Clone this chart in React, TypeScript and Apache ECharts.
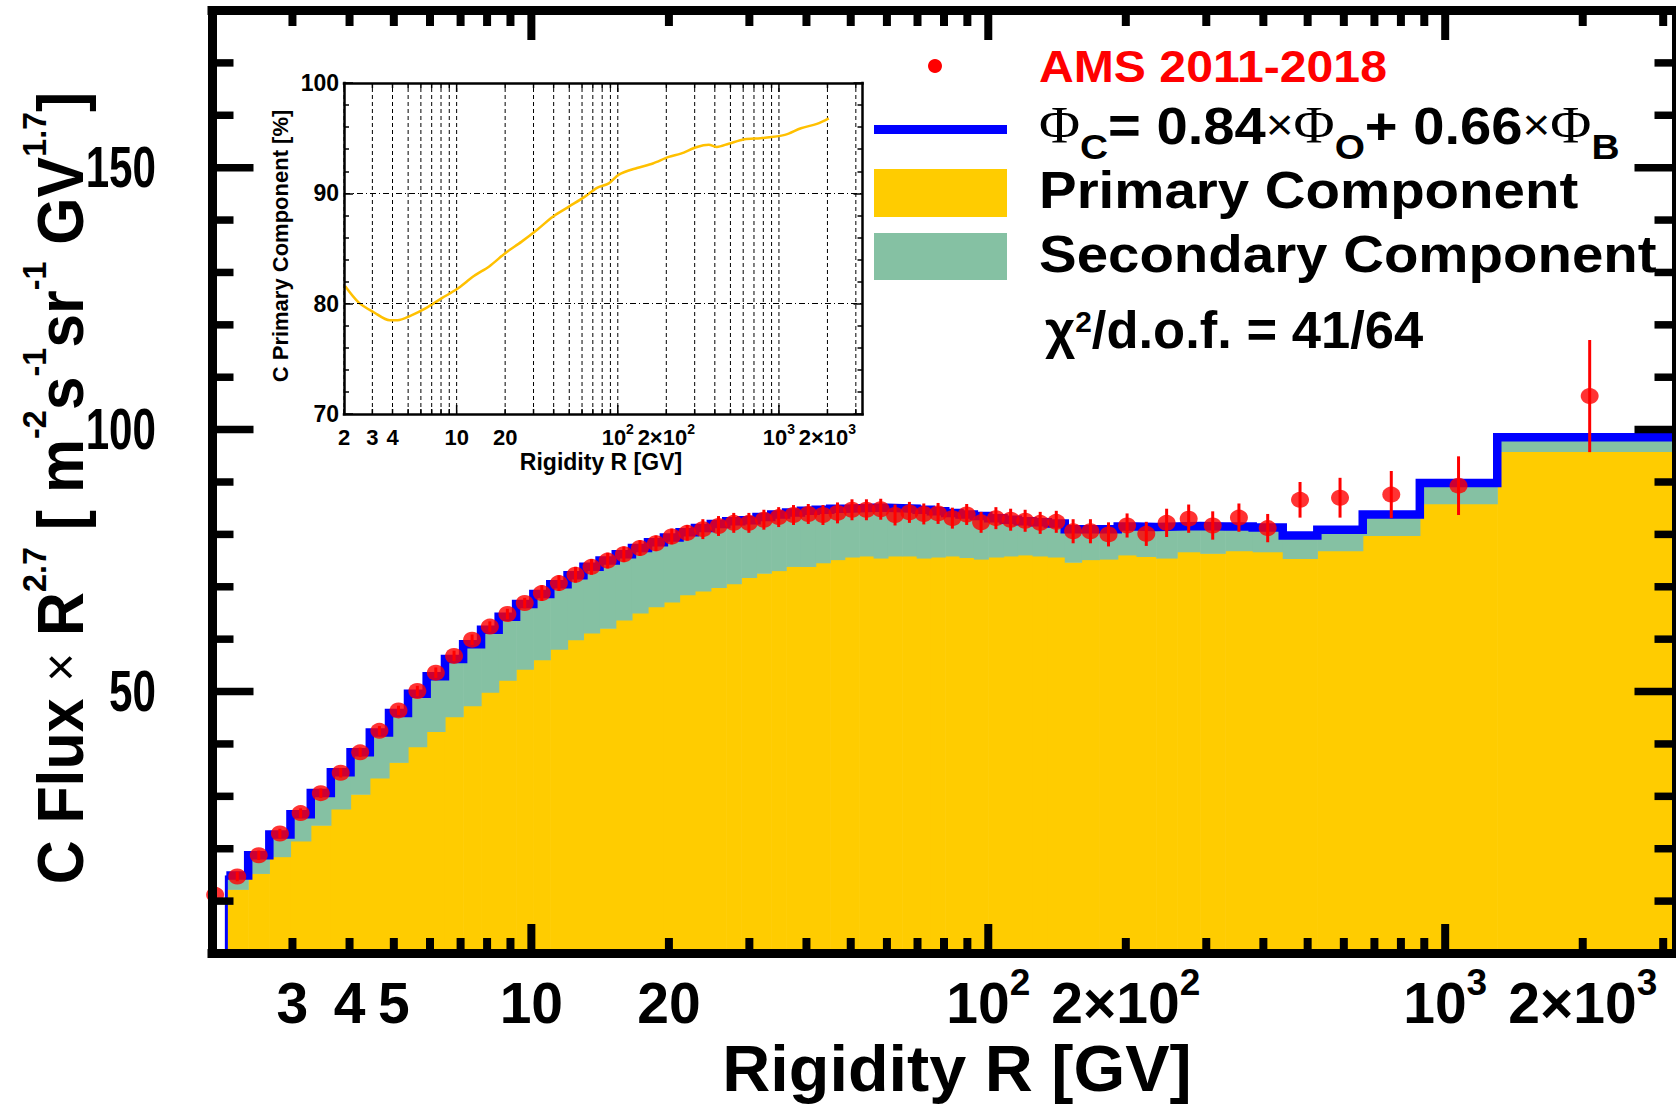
import React, { useEffect, useRef } from 'react';
import * as echarts from 'echarts';

const SANS = "'Liberation Sans', Arial, Helvetica, sans-serif";
const SERIF = "'Liberation Serif', 'DejaVu Serif', 'Times New Roman', serif";

const YELLOW = '#FFCC00';
const GREEN = '#85C1A3';
const BLUE = '#0000FF';
const RED = '#FF0000';
const CURVE = '#FFC000';

// Rigidity bin edges [GV]
const binEdges = [
  1.92, 2.15, 2.4, 2.67, 2.97, 3.29, 3.64, 4.02, 4.43, 4.88, 5.37, 5.9, 6.47, 7.09, 7.76, 8.48,
  9.26, 10.1, 11.0, 12.0, 13.0, 14.1, 15.3, 16.6, 18.0, 19.5, 21.1, 22.8, 24.7, 26.7, 28.8, 31.1,
  33.5, 36.1, 38.9, 41.9, 45.1, 48.5, 52.2, 56.1, 60.3, 64.8, 69.7, 74.9, 80.5, 86.5, 93.0, 100,
  108, 116, 125, 135, 147, 160, 175, 192, 211, 233, 259, 291, 330, 379, 441, 525, 660, 880, 1300, 3300,
];

// Measured C flux x R^2.7, one value per bin
const fluxValues = [
  11.2, 14.7, 18.75, 22.9, 26.8, 30.6, 34.5, 38.4, 42.5, 46.4,
  50.1, 53.6, 56.8, 59.9, 62.4, 64.8, 66.9, 68.8, 70.7, 72.3,
  73.8, 75.0, 76.2, 77.4, 78.3, 79.6, 80.3, 81.0, 81.6, 82.2,
  82.2, 82.8, 83.3, 83.7, 83.9, 83.7, 84.1, 84.7, 84.7, 84.8,
  83.7, 84.2, 83.9, 84.0, 83.1, 83.8, 82.3, 83.1, 82.8, 82.6,
  82.2, 82.4, 80.6, 80.6, 80.0, 81.7, 80.1, 82.2, 83.0, 81.7,
  83.2, 81.2, 86.6, 87.0, 87.6, 89.3, 106.4,
];

// Total uncertainty of each measured point
const fluxErrors = [
  0.9, 0.9, 0.9, 0.9, 0.9, 0.9, 0.9, 0.9, 0.9, 0.9,
  1.0, 1.0, 1.0, 1.0, 1.0, 1.0, 1.0, 1.5, 1.5, 1.5,
  1.5, 1.5, 1.5, 1.5, 1.5, 1.5, 1.5, 1.9, 1.9, 1.9,
  1.9, 1.9, 1.9, 1.9, 1.9, 1.9, 2.0, 2.0, 2.0, 2.0,
  2.0, 2.0, 2.0, 2.0, 2.0, 2.0, 2.0, 2.1, 2.1, 2.1,
  2.1, 2.1, 2.3, 2.3, 2.3, 2.3, 2.3, 2.7, 2.7, 2.7,
  2.7, 2.7, 3.4, 3.8, 4.5, 5.6, 10.7,
];

// Fit Phi_C = 0.84 Phi_O + 0.66 Phi_B, from the second bin (2.15 GV) on
const fitTotal = [
  14.9, 18.75, 22.7, 26.6, 30.65, 34.6, 38.4, 42.2, 45.9, 49.6,
  52.9, 56.2, 59.05, 61.8, 64.3, 66.7, 68.6, 70.5, 72.2, 73.8,
  75.0, 76.2, 77.4, 78.5, 79.4, 80.4, 81.2, 82.0, 82.5, 82.7,
  83.3, 83.8, 84.2, 84.5, 84.7, 84.9, 85.0, 85.1, 85.1, 85.0,
  84.9, 84.7, 84.4, 84.1, 83.8, 83.5, 83.1, 82.8, 82.5, 82.3,
  82.1, 81.0, 81.0, 81.0, 81.5, 81.4, 81.5, 81.6, 81.5, 81.5,
  81.3, 79.8, 80.9, 83.8, 89.8, 98.55,
];

// Primary part of the fit, same bins as fitTotal
const fitPrimary = [
  12.26, 15.3, 18.5, 21.5, 24.5, 27.6, 30.4, 33.5, 36.5, 39.5,
  42.4, 45.2, 47.3, 49.9, 52.2, 54.3, 56.1, 58.1, 59.9, 61.2,
  62.1, 63.7, 65.0, 66.2, 67.1, 68.5, 69.2, 69.9, 70.6, 71.8,
  72.6, 73.1, 73.9, 73.9, 74.6, 75.2, 75.7, 75.9, 75.5, 75.9,
  75.9, 75.5, 75.7, 75.9, 75.6, 75.3, 75.7, 75.9, 76.1, 75.9,
  75.7, 74.7, 75.2, 75.3, 76.1, 75.8, 75.5, 76.7, 76.4, 76.9,
  76.7, 75.4, 76.9, 79.8, 85.85, 95.85,
];

// Inset: primary fraction of the C flux [%]
const insetRigidity = [
  2.03, 2.47, 3.08, 3.84, 4.3, 5.16, 6.45, 8.1, 10, 12.8, 16.0, 20.1, 25.2, 31.6, 39.7, 49.8, 62.5,
  74.3, 87.9, 101.6, 131.6, 165, 207, 246, 310, 367, 412, 488, 613, 770, 1088, 1370, 1720, 2040,
];
const insetPrimaryPct = [
  81.6, 80.1, 79.2, 78.5, 78.5, 78.9, 79.6, 80.5, 81.3, 82.5, 83.4, 84.6, 85.6, 86.7, 87.9, 88.8, 89.7,
  90.5, 90.9, 91.7, 92.3, 92.7, 93.3, 93.6, 94.2, 94.4, 94.2, 94.5, 94.9, 95.0, 95.3, 95.9, 96.3, 96.8,
];

// Axis ticks and labels
const xTickValues = [
  2, 3, 4, 5, 6, 7, 8, 9, 10, 20, 30, 40, 50, 60, 70, 80, 90,
  100, 200, 300, 400, 500, 600, 700, 800, 900, 1000, 2000, 3000,
];
const xLabelValues = [3, 4, 5, 10, 20, 100, 200, 1000, 2000];
const xLabelTexts = ['3', '4', '5', '10', '20', '10^2', '2×10^2', '10^3', '2×10^3'];
const insetXLabelValues = [2, 3, 4, 10, 20, 100, 200, 1000, 2000];
const insetXLabelTexts = ['2', '3', '4', '10', '20', '10^2', '2×10^2', '10^3', '2×10^3'];
const yTickValues = [10, 20, 30, 40, 50, 60, 70, 80, 90, 100, 110, 120, 130, 140, 150, 160, 170];
const yLabelValues = [50, 100, 150];

const toRich = (label: string) => {
  const i = label.indexOf('^');
  if (i < 0) return `{n|${label}}`;
  return `{n|${label.slice(0, i)}}{s|${label.slice(i + 1)}}`;
};

const isDecade = (v: number) => Math.abs(Math.log10(v) - Math.round(Math.log10(v))) < 1e-9;

const txt = (extra: any) => ({ fill: '#000', ...extra, textAlign: extra.align, textVerticalAlign: extra.verticalAlign });

function buildOption(): any {
  const centers = fluxValues.map((_, i) => Math.sqrt(binEdges[i] * binEdges[i + 1]));
  const points = fluxValues.map((v, i) => [centers[i], v]);
  const errorBars = fluxValues.map((v, i) => [centers[i], v - fluxErrors[i], v + fluxErrors[i]]);
  const fitBins = fitTotal.map((t, i) => [binEdges[i + 1], binEdges[i + 2], fitPrimary[i], t]);
  const stepLine = [
    ...fitTotal.map((t, i) => [binEdges[i + 1], t]),
    [binEdges[binEdges.length - 1], fitTotal[fitTotal.length - 1]],
  ];
  const firstEdge = [
    [binEdges[1], 0],
    [binEdges[1], fitTotal[0]],
  ];
  const insetCurve = insetRigidity.map((r, i) => [r, insetPrimaryPct[i]]);

  const mainRich = {
    n: { font: `bold 57px ${SANS}`, fill: '#000', lineHeight: 60 },
    s: { font: `bold 37px ${SANS}`, fill: '#000', height: 20, lineHeight: 20, verticalAlign: 'top' },
  };
  const insetRich = {
    n: { font: `bold 22px ${SANS}`, fill: '#000', lineHeight: 30 },
    s: { font: `bold 14px ${SANS}`, fill: '#000', height: 13, lineHeight: 13, verticalAlign: 'top' },
  };

  const frameLine = (w: number) => ({
    show: true,
    onZero: false,
    lineStyle: { color: '#000', width: w, cap: 'square' },
  });
  const bare = { axisTick: { show: false }, axisLabel: { show: false }, splitLine: { show: false } };

  return {
    animation: false,
    backgroundColor: '#ffffff',
    grid: [
      { left: 212, top: 10.5, width: 1476, height: 943 },
      { left: 344, top: 83, width: 518.5, height: 331 },
    ],
    xAxis: [
      { gridIndex: 0, type: 'log', logBase: 10, min: 2, max: 3200, position: 'bottom', axisLine: frameLine(9), ...bare, z: 12 },
      { gridIndex: 0, type: 'log', logBase: 10, min: 2, max: 3200, position: 'top', axisLine: frameLine(9), ...bare, z: 12 },
      { gridIndex: 1, type: 'log', logBase: 10, min: 2, max: 3300, position: 'bottom', axisLine: frameLine(2.5), ...bare, z: 12 },
      { gridIndex: 1, type: 'log', logBase: 10, min: 2, max: 3300, position: 'top', axisLine: frameLine(2.5), ...bare, z: 12 },
    ],
    yAxis: [
      { gridIndex: 0, type: 'value', min: 0, max: 180, interval: 10, position: 'left', axisLine: frameLine(9), ...bare, z: 12 },
      { gridIndex: 0, type: 'value', min: 0, max: 180, interval: 10, position: 'right', axisLine: frameLine(9), ...bare, z: 12 },
      {
        gridIndex: 1, type: 'value', min: 70, max: 100, interval: 10, position: 'left',
        axisLine: frameLine(2.5),
        axisTick: { show: true, inside: true, length: 9, lineStyle: { color: '#000', width: 1.5 } },
        minorTick: { show: true, splitNumber: 5, length: 5, lineStyle: { color: '#000', width: 1.5 } },
        axisLabel: { show: true, margin: 5, color: '#000', fontSize: 23, fontWeight: 'bold', fontFamily: SANS },
        splitLine: { show: true, lineStyle: { color: '#000', width: 1, type: [6, 3, 1, 3] } },
        z: 12,
      },
      {
        gridIndex: 1, type: 'value', min: 70, max: 100, interval: 10, position: 'right',
        axisLine: frameLine(2.5),
        axisTick: { show: true, inside: true, length: 9, lineStyle: { color: '#000', width: 1.5 } },
        minorTick: { show: true, splitNumber: 5, length: 5, lineStyle: { color: '#000', width: 1.5 } },
        axisLabel: { show: false },
        splitLine: { show: false },
        z: 12,
      },
    ],
    series: [
      {
        name: 'Primary Component',
        type: 'custom',
        xAxisIndex: 0,
        yAxisIndex: 0,
        silent: true,
        z: 1,
        data: fitBins,
        renderItem: (params: any, api: any) => {
          const a = api.coord([api.value(0), 0]);
          const b = api.coord([api.value(1), api.value(2)]);
          return {
            type: 'rect',
            shape: { x: a[0], y: b[1], width: b[0] - a[0] + 0.6, height: a[1] - b[1] },
            style: { fill: YELLOW },
          };
        },
      },
      {
        name: 'Secondary Component',
        type: 'custom',
        xAxisIndex: 0,
        yAxisIndex: 0,
        silent: true,
        z: 1,
        data: fitBins,
        renderItem: (params: any, api: any) => {
          const a = api.coord([api.value(0), api.value(2)]);
          const b = api.coord([api.value(1), api.value(3)]);
          return {
            type: 'rect',
            shape: { x: a[0], y: b[1], width: b[0] - a[0] + 0.6, height: a[1] - b[1] + 0.6 },
            style: { fill: GREEN },
          };
        },
      },
      {
        name: 'Fit edge',
        type: 'line',
        xAxisIndex: 0,
        yAxisIndex: 0,
        silent: true,
        z: 2,
        symbol: 'none',
        data: firstEdge,
        lineStyle: { color: BLUE, width: 3 },
      },
      {
        name: 'Fit',
        type: 'line',
        xAxisIndex: 0,
        yAxisIndex: 0,
        silent: true,
        z: 2,
        step: 'end',
        symbol: 'none',
        data: stepLine,
        lineStyle: { color: BLUE, width: 8.5, join: 'miter', cap: 'butt' },
      },
      {
        name: 'Errors',
        type: 'custom',
        xAxisIndex: 0,
        yAxisIndex: 0,
        silent: true,
        z: 3,
        data: errorBars,
        renderItem: (params: any, api: any) => {
          const lo = api.coord([api.value(0), api.value(1)]);
          const hi = api.coord([api.value(0), api.value(2)]);
          return {
            type: 'line',
            shape: { x1: lo[0], y1: lo[1], x2: hi[0], y2: hi[1] },
            style: { stroke: RED, lineWidth: 3 },
          };
        },
      },
      {
        name: 'AMS 2011-2018',
        type: 'scatter',
        xAxisIndex: 0,
        yAxisIndex: 0,
        silent: true,
        z: 4,
        symbol: 'circle',
        symbolSize: [18, 16],
        itemStyle: { color: RED },
        data: points,
      },
      {
        name: 'x ticks',
        type: 'custom',
        xAxisIndex: 0,
        yAxisIndex: 0,
        silent: true,
        z: 11,
        data: xTickValues.map((v) => [v, 90]),
        renderItem: (params: any, api: any) => {
          const cs = params.coordSys;
          const v = api.value(0);
          const px = api.coord([v, 90])[0];
          const len = (isDecade(v) ? 25 : 11) + 4.5;
          const bottom = cs.y + cs.height;
          const st = { stroke: '#000', lineWidth: 8 };
          return {
            type: 'group',
            children: [
              { type: 'line', shape: { x1: px, y1: bottom, x2: px, y2: bottom - len }, style: st },
              { type: 'line', shape: { x1: px, y1: cs.y, x2: px, y2: cs.y + len }, style: st },
            ],
          };
        },
      },
      {
        name: 'y ticks',
        type: 'custom',
        xAxisIndex: 0,
        yAxisIndex: 0,
        silent: true,
        z: 11,
        data: yTickValues.map((v) => [10, v]),
        renderItem: (params: any, api: any) => {
          const cs = params.coordSys;
          const v = api.value(1);
          const py = api.coord([10, v])[1];
          const major = yLabelValues.indexOf(v) >= 0;
          const len = (major ? 37 : 17) + 4.5;
          const L = cs.x;
          const R = cs.x + cs.width;
          const st = { stroke: '#000', lineWidth: 7.5 };
          const children: any[] = [
            { type: 'line', shape: { x1: L, y1: py, x2: L + len, y2: py }, style: st },
            { type: 'line', shape: { x1: R, y1: py, x2: R - len, y2: py }, style: st },
          ];
          if (major) {
            children.push({
              type: 'text',
              x: L - 56,
              y: py,
              scaleX: 0.74,
              style: txt({ text: String(v), font: `bold 57px ${SANS}`, align: 'right', verticalAlign: 'middle' }),
            });
          }
          return { type: 'group', children };
        },
      },
      {
        name: 'x labels',
        type: 'custom',
        xAxisIndex: 0,
        yAxisIndex: 0,
        silent: true,
        z: 11,
        data: xLabelValues.map((v) => [v, 0]),
        renderItem: (params: any, api: any) => {
          const cs = params.coordSys;
          const px = api.coord([api.value(0), 0])[0];
          return {
            type: 'text',
            x: px,
            y: cs.y + cs.height + 49,
            style: txt({
              text: toRich(xLabelTexts[params.dataIndex]),
              rich: mainRich,
              align: 'center',
              verticalAlign: 'middle',
            }),
          };
        },
      },
      {
        name: 'C Primary Component',
        type: 'line',
        xAxisIndex: 2,
        yAxisIndex: 2,
        silent: true,
        z: 5,
        symbol: 'none',
        smooth: 0.3,
        data: insetCurve,
        lineStyle: { color: CURVE, width: 2.5 },
      },
      {
        name: 'inset x grid',
        type: 'custom',
        xAxisIndex: 2,
        yAxisIndex: 2,
        silent: true,
        z: 4,
        data: xTickValues.map((v) => [v, 85]),
        renderItem: (params: any, api: any) => {
          const cs = params.coordSys;
          const v = api.value(0);
          const px = api.coord([v, 85])[0];
          const bottom = cs.y + cs.height;
          const len = isDecade(v) ? 9 : 5;
          const tick = { stroke: '#000', lineWidth: 1.5 };
          return {
            type: 'group',
            children: [
              { type: 'line', shape: { x1: px, y1: bottom, x2: px, y2: cs.y }, style: { stroke: '#000', lineWidth: 1, lineDash: [4, 3] } },
              { type: 'line', shape: { x1: px, y1: bottom, x2: px, y2: bottom - len }, style: tick },
              { type: 'line', shape: { x1: px, y1: cs.y, x2: px, y2: cs.y + len }, style: tick },
            ],
          };
        },
      },
      {
        name: 'inset x labels',
        type: 'custom',
        xAxisIndex: 2,
        yAxisIndex: 2,
        silent: true,
        z: 11,
        data: insetXLabelValues.map((v) => [v, 70]),
        renderItem: (params: any, api: any) => {
          const cs = params.coordSys;
          const px = api.coord([api.value(0), 70])[0];
          return {
            type: 'text',
            x: px,
            y: cs.y + cs.height + 23,
            style: txt({
              text: toRich(insetXLabelTexts[params.dataIndex]),
              rich: insetRich,
              align: 'center',
              verticalAlign: 'middle',
            }),
          };
        },
      },
    ],
    graphic: [
      { type: 'circle', z: 20, shape: { cx: 935, cy: 66, r: 7 }, style: { fill: RED } },
      {
        type: 'text', z: 20, x: 1039, y: 67, scaleX: 1.07,
        style: txt({ text: 'AMS 2011-2018', font: `bold 45px ${SANS}`, fill: RED, align: 'left', verticalAlign: 'middle' }),
      },
      { type: 'line', z: 20, shape: { x1: 874, y1: 129.5, x2: 1007, y2: 129.5 }, style: { stroke: BLUE, lineWidth: 9 } },
      {
        type: 'text', z: 20, x: 1039, y: 125.5, scaleX: 1.08,
        style: txt({
          text: '{p|Φ}{b|C}{m|= 0.84}{x|×}{p|Φ}{b|O}{m|+ 0.66}{x|×}{p|Φ}{b|B}',
          rich: {
            p: { font: `52px ${SERIF}`, fill: '#000', lineHeight: 74 },
            m: { font: `bold 52px ${SANS}`, fill: '#000', lineHeight: 74 },
            x: { font: `44px ${SANS}`, fill: '#000', lineHeight: 74 },
            b: { font: `bold 36px ${SANS}`, fill: '#000', height: 31, lineHeight: 31, verticalAlign: 'bottom' },
          },
          align: 'left',
          verticalAlign: 'middle',
        }),
      },
      { type: 'rect', z: 20, shape: { x: 874, y: 169, width: 133, height: 48 }, style: { fill: YELLOW } },
      {
        type: 'text', z: 20, x: 1039, y: 190, scaleX: 1.085,
        style: txt({ text: 'Primary Component', font: `bold 52px ${SANS}`, align: 'left', verticalAlign: 'middle' }),
      },
      { type: 'rect', z: 20, shape: { x: 874, y: 233, width: 133, height: 47 }, style: { fill: GREEN } },
      {
        type: 'text', z: 20, x: 1039, y: 254, scaleX: 1.085,
        style: txt({ text: 'Secondary Component', font: `bold 52px ${SANS}`, align: 'left', verticalAlign: 'middle' }),
      },
      {
        type: 'text', z: 20, x: 1045, y: 330, scaleX: 1.03,
        style: txt({
          text: '{m|χ}{s|2}{m|/d.o.f. = 41/64}',
          rich: {
            m: { font: `bold 51px ${SANS}`, fill: '#000', lineHeight: 74 },
            s: { font: `bold 29px ${SANS}`, fill: '#000', height: 58, lineHeight: 58, verticalAlign: 'top' },
          },
          align: 'left',
          verticalAlign: 'middle',
        }),
      },
      {
        type: 'text', z: 20, x: 957, y: 1068.5, scaleX: 1.04,
        style: txt({ text: 'Rigidity R [GV]', font: `bold 64px ${SANS}`, lineHeight: 50, align: 'center', verticalAlign: 'middle' }),
      },
      {
        type: 'text', z: 20, x: 60, y: 488, rotation: Math.PI / 2, scaleX: 0.95,
        style: txt({
          text: '{m|C Flux }{x|×}{m| R}{s|2.7}{m| [ m}{s|-2}{m|s}{s|-1}{m|sr}{s|-1}{m| GV}{s|1.7}{m|]}',
          rich: {
            m: { font: `bold 64px ${SANS}`, fill: '#000', lineHeight: 100 },
            x: { font: `52px ${SANS}`, fill: '#000', lineHeight: 100 },
            s: { font: `bold 34px ${SANS}`, fill: '#000', height: 48, lineHeight: 48, verticalAlign: 'top' },
          },
          align: 'center',
          verticalAlign: 'middle',
        }),
      },
      {
        type: 'text', z: 20, x: 280, y: 246, rotation: Math.PI / 2,
        style: txt({ text: 'C Primary Component [%]', font: `bold 22px ${SANS}`, align: 'center', verticalAlign: 'middle' }),
      },
      {
        type: 'text', z: 20, x: 601, y: 462,
        style: txt({ text: 'Rigidity R [GV]', font: `bold 23px ${SANS}`, align: 'center', verticalAlign: 'middle' }),
      },
    ],
  };
}

export default function App() {
  const ref = useRef<HTMLDivElement>(null);
  useEffect(() => {
    if (!ref.current) return;
    const chart = echarts.init(ref.current, undefined, { renderer: 'svg' });
    chart.setOption(buildOption());
    return () => {
      chart.dispose();
    };
  }, []);
  return (
    <div
      ref={ref}
      style={{ position: 'absolute', left: 0, top: 0, width: 1676, height: 1104, background: '#ffffff' }}
    />
  );
}
